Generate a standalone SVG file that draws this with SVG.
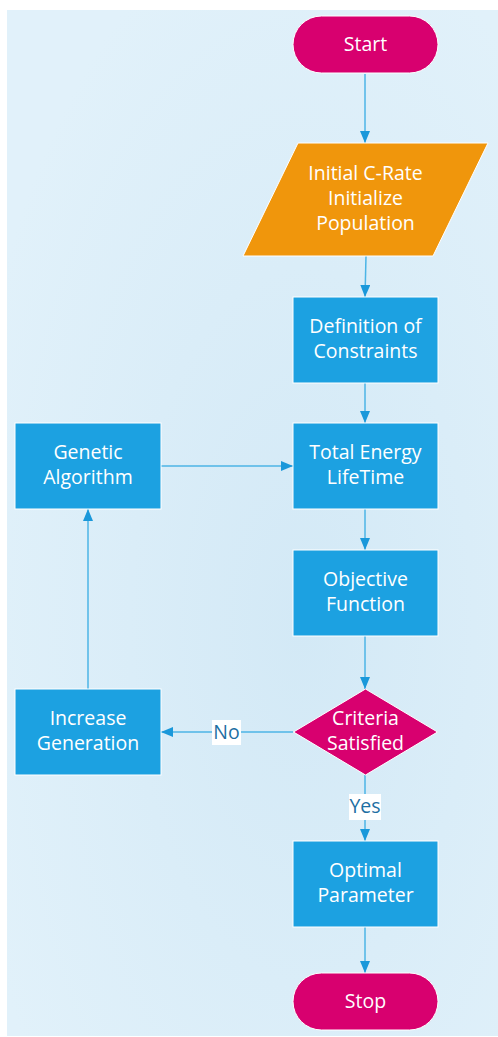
<svg xmlns="http://www.w3.org/2000/svg" width="498" height="1037" viewBox="0 0 498 1037">
<defs>
<radialGradient id="bg" cx="0.6" cy="0.6" r="0.7">
<stop offset="0" stop-color="#d3e9f6"/>
<stop offset="1" stop-color="#e1f1fa"/>
</radialGradient>
<marker id="ah" viewBox="0 0 12 10" refX="12" refY="5" markerWidth="12" markerHeight="10" markerUnits="userSpaceOnUse" orient="auto">
<path d="M0,0 L12,5 L0,10 Z" fill="#1a98da"/>
</marker>
<style>
.t{font-family:"Open Sans","Noto Sans",sans-serif;font-size:19.5px;fill:#ffffff;text-anchor:middle}
.lbl{font-family:"Open Sans","Noto Sans",sans-serif;font-size:19.5px;fill:#1d6fa3;text-anchor:middle}
.box{fill:#1ca1e1;stroke:#ffffff;stroke-width:1}
.term{fill:#d8006f;stroke:#ffffff;stroke-width:1}
.c{fill:none;stroke:#4cb5e6;stroke-width:1.5;marker-end:url(#ah)}
</style>
</defs>
<rect x="7" y="10" width="491" height="1026" fill="url(#bg)"/>
<g id="connectors">
<line class="c" x1="365" y1="74" x2="365" y2="143"/>
<line class="c" x1="366" y1="256" x2="365" y2="297"/>
<line class="c" x1="365" y1="383" x2="365" y2="423"/>
<line class="c" x1="161" y1="466" x2="293" y2="466"/>
<line class="c" x1="365" y1="509" x2="365" y2="550"/>
<line class="c" x1="365" y1="636" x2="365" y2="689"/>
<line class="c" x1="293" y1="732" x2="161" y2="732"/>
<line class="c" x1="88" y1="689" x2="88" y2="509"/>
<line class="c" x1="365" y1="775" x2="365" y2="841"/>
<line class="c" x1="365" y1="927" x2="365" y2="973"/>
<rect x="212" y="720" width="29" height="25" fill="#ffffff"/>
<text class="lbl" x="226.5" y="739">No</text>
<rect x="349" y="794" width="32" height="26" fill="#ffffff"/>
<text class="lbl" x="365" y="813">Yes</text>
</g>
<g id="start">
<rect class="term" x="293" y="16" width="145" height="57" rx="28.5"/>
<text class="t" x="365.5" y="51">Start</text>
</g>
<g id="init">
<polygon points="298,143 488,143 433,256 243,256" fill="#f0960c" stroke="#ffffff" stroke-width="1"/>
<text class="t" x="365.5" y="180">Initial C-Rate</text>
<text class="t" x="365.5" y="205">Initialize</text>
<text class="t" x="365.5" y="230">Population</text>
</g>
<g id="constraints">
<rect class="box" x="293" y="297" width="145" height="86"/>
<text class="t" x="365.5" y="333">Definition of</text>
<text class="t" x="365.5" y="358">Constraints</text>
</g>
<g id="total">
<rect class="box" x="293" y="423" width="145" height="86"/>
<text class="t" x="365.5" y="459">Total Energy</text>
<text class="t" x="365.5" y="484">LifeTime</text>
</g>
<g id="genetic">
<rect class="box" x="15" y="423" width="146" height="86"/>
<text class="t" x="88" y="459">Genetic</text>
<text class="t" x="88" y="484">Algorithm</text>
</g>
<g id="objective">
<rect class="box" x="293" y="550" width="145" height="86"/>
<text class="t" x="365.5" y="586">Objective</text>
<text class="t" x="365.5" y="611">Function</text>
</g>
<g id="criteria">
<polygon points="365.5,689 437.5,732 365.5,775 293.5,732" fill="#d8006f" stroke="#ffffff" stroke-width="1"/>
<text class="t" x="365.5" y="725">Criteria</text>
<text class="t" x="365.5" y="750">Satisfied</text>
</g>
<g id="increase">
<rect class="box" x="15" y="689" width="146" height="86"/>
<text class="t" x="88" y="725">Increase</text>
<text class="t" x="88" y="750">Generation</text>
</g>
<g id="optimal">
<rect class="box" x="293" y="841" width="145" height="86"/>
<text class="t" x="365.5" y="877">Optimal</text>
<text class="t" x="365.5" y="902">Parameter</text>
</g>
<g id="stop">
<rect class="term" x="293" y="973" width="145" height="57" rx="28.5"/>
<text class="t" x="365.5" y="1008">Stop</text>
</g>
</svg>
